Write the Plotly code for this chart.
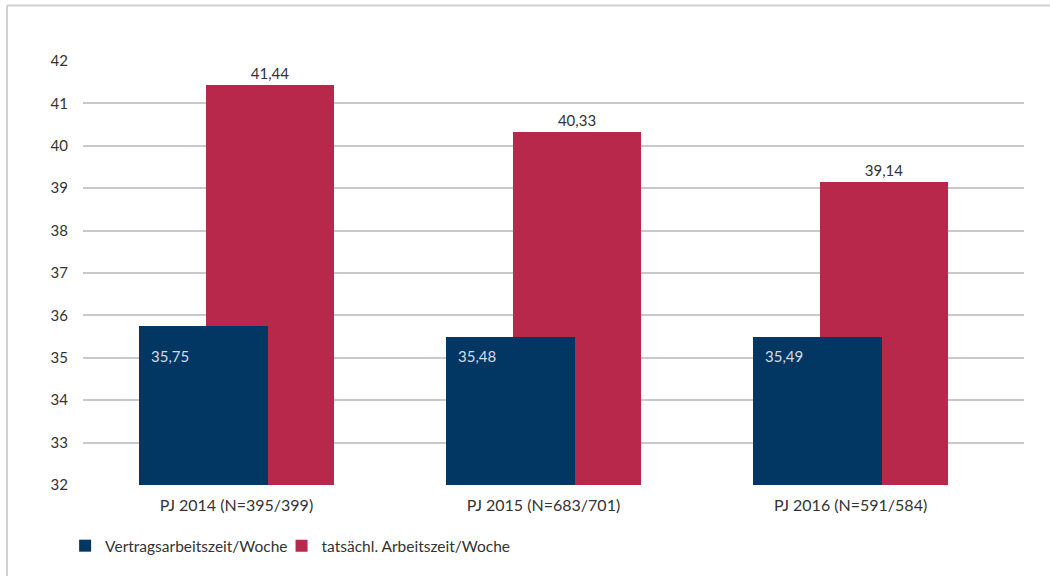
import plotly.graph_objects as go

categories = ["PJ 2014 (N=395/399)", "PJ 2015 (N=683/701)", "PJ 2016 (N=591/584)"]
vertrag = [35.75, 35.48, 35.49]
tatsaechl = [41.44, 40.33, 39.14]
series_names = ["Vertragsarbeitszeit/Woche", "tatsächl. Arbeitszeit/Woche"]
y_ticks = list(range(32, 43))

BLUE = "#023764"
RED = "#B8284A"
FONT = "Lato, 'Open Sans', sans-serif"
TXT = "#333333"

def fmt(v):
    return f"{v:.2f}".replace(".", ",")

xs = list(range(len(categories)))
W = 0.419

fig = go.Figure()
fig.add_trace(go.Bar(
    x=xs, y=tatsaechl, name=series_names[1], marker=dict(color=RED, line=dict(width=0)),
    width=W, offset=-0.101, legend="legend2",
    text=[fmt(v) for v in tatsaechl], textposition="outside",
    textfont=dict(family=FONT, size=15, color=TXT), cliponaxis=False,
))
fig.add_trace(go.Bar(
    x=xs, y=vertrag, name=series_names[0], marker=dict(color=BLUE, line=dict(width=0)),
    width=W, offset=-0.317, legend="legend",
))

for i, v in enumerate(vertrag):
    fig.add_annotation(x=i - 0.218, y=35.04, text=fmt(v), showarrow=False,
                       xref="x", yref="y", yanchor="middle",
                       font=dict(family=FONT, size=15, color="#D3DCE6"))

legend_common = dict(orientation="h", xanchor="left", y=-0.104, yanchor="top",
                     font=dict(family=FONT, size=15.5, color=TXT), itemclick=False,
                     bgcolor="rgba(0,0,0,0)")

fig.update_layout(
    width=1050, height=576,
    margin=dict(l=83, r=26, t=61, b=91),
    paper_bgcolor="white", plot_bgcolor="white",
    barmode="overlay",
    font=dict(family=FONT, size=15, color=TXT),
    showlegend=True,
    legend=dict(x=-0.019, **legend_common),
    legend2=dict(x=0.211, **legend_common),
    xaxis=dict(range=[-0.5, 2.565], tickmode="array", tickvals=xs, ticktext=categories,
               showgrid=False, zeroline=False, showline=False, ticks="",
               ticklabelstandoff=9,
               tickfont=dict(family=FONT, size=16, color=TXT)),
    yaxis=dict(range=[32, 42], tickmode="array", tickvals=y_ticks,
               ticktext=[str(t) for t in y_ticks],
               showgrid=True, gridcolor="#C9C9C9", gridwidth=1.5,
               zeroline=False, showline=False, ticks="",
               ticklabelstandoff=14,
               tickfont=dict(family=FONT, size=15, color=TXT)),
    bargap=0,
)

# outer frame (top and left edges visible)
fig.add_shape(type="line", xref="paper", yref="paper", x0=-0.0808, x1=1.1, y0=1.1309, y1=1.1309,
              line=dict(color="#D0D0D0", width=2))
fig.add_shape(type="line", xref="paper", yref="paper", x0=-0.0808, x1=-0.0808, y0=-0.3, y1=1.1309,
              line=dict(color="#D0D0D0", width=2))

fig.write_html("out.html")
